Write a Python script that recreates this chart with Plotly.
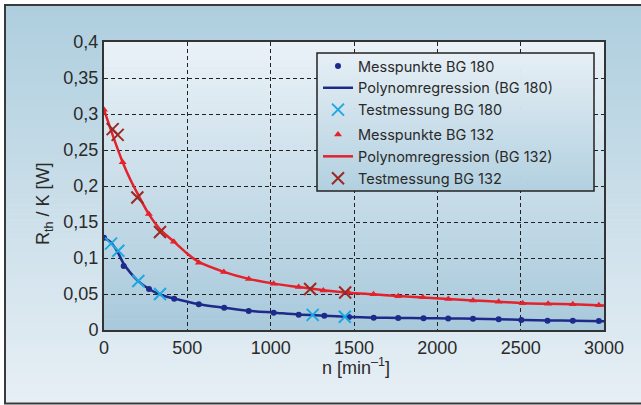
import plotly.graph_objects as go

# ---------------- data ----------------
bg180_pts_n = [0, 118, 270, 421, 569, 721, 868, 1018, 1168, 1322, 1470, 1618, 1765, 1917, 2065, 2214, 2368, 2504, 2661, 2813, 2969]
bg180_pts_R = [0.128, 0.089, 0.057, 0.0435, 0.0357, 0.031, 0.0264, 0.024, 0.0213, 0.0199, 0.018, 0.017, 0.0167, 0.0164, 0.016, 0.0157, 0.0148, 0.0139, 0.013, 0.013, 0.0125]

bg180_fit_n = [0, 40, 80, 118, 160, 200, 270, 340, 420, 570, 720, 870, 1020, 1170, 1320, 1470, 1620, 1770, 1920, 2070, 2220, 2370, 2520, 2670, 2820, 3000]
bg180_fit_R = [0.128, 0.122, 0.109, 0.092, 0.079, 0.069, 0.057, 0.049, 0.0437, 0.0358, 0.031, 0.0266, 0.0241, 0.0215, 0.0199, 0.0182, 0.0171, 0.0167, 0.0164, 0.016, 0.0156, 0.0149, 0.014, 0.0132, 0.0129, 0.0122]

bg180_test_n = [42, 86, 206, 336, 1252, 1445]
bg180_test_R = [0.120, 0.110, 0.068, 0.050, 0.021, 0.0185]

bg132_pts_n = [0, 112, 269, 419, 569, 719, 869, 1018, 1168, 1316, 1467, 1617, 1765, 1913, 2066, 2214, 2368, 2512, 2665, 2813, 2969]
bg132_pts_R = [0.306, 0.233, 0.161, 0.1227, 0.0935, 0.0806, 0.0708, 0.0643, 0.0597, 0.055, 0.052, 0.0495, 0.047, 0.0454, 0.043, 0.041, 0.0393, 0.037, 0.0366, 0.0357, 0.0343]

bg132_fit_n = [0, 50, 112, 160, 200, 269, 340, 419, 500, 569, 719, 869, 1018, 1168, 1316, 1467, 1617, 1765, 1913, 2066, 2214, 2368, 2512, 2665, 2813, 3000]
bg132_fit_R = [0.306, 0.272, 0.233, 0.208, 0.19, 0.161, 0.139, 0.1227, 0.106, 0.0945, 0.0808, 0.071, 0.0644, 0.0597, 0.0552, 0.0518, 0.0495, 0.0471, 0.0453, 0.0431, 0.0411, 0.0392, 0.0372, 0.0364, 0.0356, 0.034]

bg132_test_n = [52, 82, 200, 336, 1237, 1447]
bg132_test_R = [0.279, 0.271, 0.184, 0.136, 0.057, 0.052]

x_tickvals = [0, 500, 1000, 1500, 2000, 2500, 3000]
x_ticktext = ["0", "500", "1000", "1500", "2000", "2500", "3000"]
y_tickvals = [0, 0.05, 0.1, 0.15, 0.2, 0.25, 0.3, 0.35, 0.4]
y_ticktext = ["0", "0,05", "0,1", "0,15", "0,2", "0,25", "0,3", "0,35", "0,4"]

legend_names = ["Messpunkte BG 180", "Polynomregression (BG 180)", "Testmessung BG 180",
                "Messpunkte BG 132", "Polynomregression (BG 132)", "Testmessung BG 132"]

# ---------------- layout geometry ----------------
W, H = 641, 405
L, R, T, B = 104, 37, 42, 75
PW, PH = W - L - R, H - T - B


def px_x(px):
    return (px - L) / PW


def px_y(py):
    return (H - B - py) / PH


def hexrgb(h):
    h = h.lstrip('#')
    return tuple(int(h[i:i + 2], 16) for i in (0, 2, 4))


def gradient(x0, x1, y0, y1, ctop, cbot, n, layer):
    """vertical gradient as stacked strips; coords in pixels"""
    a, b = hexrgb(ctop), hexrgb(cbot)
    out = []
    for i in range(n):
        t = (i + 0.5) / n
        c = tuple(round(a[k] + (b[k] - a[k]) * t) for k in range(3))
        ya = y0 + (y1 - y0) * i / n
        yb = y0 + (y1 - y0) * (i + 1) / n + 0.6
        out.append(dict(type="rect", xref="paper", yref="paper", layer=layer,
                        x0=px_x(x0), x1=px_x(x1), y0=px_y(ya), y1=px_y(min(yb, y1)),
                        line=dict(width=0), fillcolor="rgb(%d,%d,%d)" % c))
    return out


shapes = []
shapes += gradient(5, 650, 5, 403.5, "#aecede", "#e7eff5", 80, "below")
shapes += gradient(L, L + PW, T, T + PH, "#eaf2f7", "#a8c9db", 80, "below")
shapes.append(dict(type="rect", xref="paper", yref="paper", layer="below",
                   x0=px_x(5), x1=px_x(660), y0=px_y(5), y1=px_y(403.5),
                   line=dict(color="#3a3a3a", width=2), fillcolor="rgba(0,0,0,0)"))
# legend box
LX0, LX1, LY0, LY1 = 317, 594, 53, 191
shapes += gradient(LX0, LX1, LY0, LY1, "#e6eff5", "#b2d0e0", 40, "above")
shapes.append(dict(type="rect", xref="paper", yref="paper", layer="above",
                   x0=px_x(LX0), x1=px_x(LX1), y0=px_y(LY0), y1=px_y(LY1),
                   line=dict(color="#222222", width=1.5), fillcolor="rgba(0,0,0,0)"))

NAVY = "#1d2a8a"
CYAN = "#1ea8e2"
RED = "#e4222b"
DRED = "#9a2a22"

fig = go.Figure()
fig.add_trace(go.Scatter(x=bg180_fit_n, y=bg180_fit_R, mode="lines", name=legend_names[1],
                         line=dict(color=NAVY, width=2.5, shape="spline", smoothing=0.8),
                         legendgroup="a", legendrank=2))
fig.add_trace(go.Scatter(x=bg180_pts_n, y=bg180_pts_R, mode="markers", name=legend_names[0],
                         marker=dict(color=NAVY, size=6, symbol="circle"),
                         legendgroup="a", legendrank=1))
fig.add_trace(go.Scatter(x=bg180_test_n, y=bg180_test_R, mode="markers", name=legend_names[2],
                         marker=dict(symbol="x-thin", size=12, line=dict(color=CYAN, width=2)),
                         legendgroup="a", legendrank=3))
fig.add_trace(go.Scatter(x=bg132_fit_n, y=bg132_fit_R, mode="lines", name=legend_names[4],
                         line=dict(color=RED, width=2.5, shape="spline", smoothing=0.8),
                         legendgroup="b", legendrank=5))
fig.add_trace(go.Scatter(x=bg132_pts_n, y=bg132_pts_R, mode="markers", name=legend_names[3],
                         marker=dict(color=RED, size=7, symbol="triangle-up"),
                         legendgroup="b", legendrank=4))
fig.add_trace(go.Scatter(x=bg132_test_n, y=bg132_test_R, mode="markers", name=legend_names[5],
                         marker=dict(symbol="x-thin", size=12, line=dict(color=DRED, width=2)),
                         legendgroup="b", legendrank=6))

FONT = "Liberation Sans, Arial, sans-serif"
LFONT = "Inter, Liberation Sans, Arial, sans-serif"
axis_common = dict(showline=True, mirror=True, linecolor="#333333", linewidth=2,
                   showgrid=True, gridcolor="#222222", gridwidth=1, griddash="4px,3px",
                   zeroline=False, ticks="", tickfont=dict(family=FONT, size=18, color="#2a2a2a"))

fig.update_layout(
    width=W, height=H,
    margin=dict(l=L, r=R, t=T, b=B, pad=0),
    paper_bgcolor="white", plot_bgcolor="#c8dde8",
    font=dict(family=FONT, color="#2a2a2a"),
    shapes=shapes,
    showlegend=True,
    legend=dict(x=px_x(318), y=px_y(50), xanchor="left", yanchor="top",
                bgcolor="rgba(0,0,0,0)", borderwidth=0,
                font=dict(family=LFONT, size=14.5, color="#2a2a2a"),
                traceorder="grouped", tracegroupgap=3),
    xaxis=dict(range=[0, 3000], tickvals=x_tickvals, ticktext=x_ticktext, **axis_common),
    yaxis=dict(range=[0, 0.4], tickvals=y_tickvals, ticktext=y_ticktext, **axis_common),
    annotations=[
        dict(text="R<sub>th</sub> / K [W]", xref="paper", yref="paper",
             x=px_x(44), y=px_y(204), textangle=-90, showarrow=False,
             xanchor="center", yanchor="middle",
             font=dict(family=FONT, size=18, color="#2a2a2a")),
        dict(text="n [min<sup>–1</sup>]", xref="paper", yref="paper",
             x=px_x(356), y=px_y(366), showarrow=False,
             xanchor="center", yanchor="middle",
             font=dict(family=FONT, size=18, color="#2a2a2a")),
    ],
)

fig.write_html("out.html")
